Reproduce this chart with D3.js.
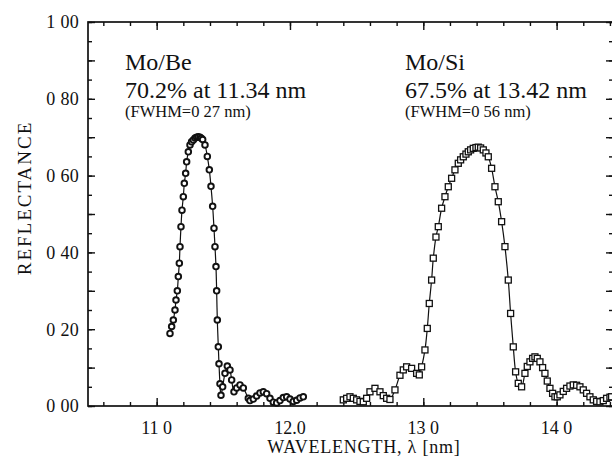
<!DOCTYPE html>
<html>
<head>
<meta charset="utf-8">
<script src="https://cdn.jsdelivr.net/npm/d3@7"></script>
<style>
  body { margin: 0; background: #fff; }
  svg { display: block; }
  text { font-family: "Liberation Serif", "Times New Roman", serif; fill: #111; }
</style>
</head>
<body>
<svg id="chart" width="612" height="461" font-family="Liberation Serif, serif"></svg>
<script>
// [wavelength nm, reflectance]
const moBePoints = [
  [11.100, 0.189], [11.1125, 0.207], [11.125, 0.224], [11.1375, 0.250], [11.145, 0.276],
  [11.155, 0.300], [11.1625, 0.337], [11.170, 0.372], [11.175, 0.415], [11.1825, 0.467],
  [11.190, 0.510], [11.200, 0.545], [11.2075, 0.580], [11.2175, 0.606], [11.225, 0.636],
  [11.2375, 0.662], [11.250, 0.680], [11.262, 0.688], [11.275, 0.693], [11.288, 0.698],
  [11.300, 0.700], [11.312, 0.701], [11.325, 0.700], [11.335, 0.697], [11.345, 0.694],
  [11.3625, 0.680], [11.380, 0.650], [11.395, 0.615], [11.4075, 0.572], [11.420, 0.520],
  [11.430, 0.463], [11.4375, 0.415], [11.445, 0.363], [11.450, 0.300], [11.455, 0.224],
  [11.4625, 0.154], [11.4675, 0.110], [11.475, 0.058], [11.4825, 0.028], [11.495, 0.050],
  [11.5125, 0.085], [11.530, 0.104], [11.550, 0.094], [11.5625, 0.068], [11.580, 0.037],
  [11.600, 0.047], [11.625, 0.055], [11.650, 0.047], [11.6875, 0.020], [11.700, 0.014],
  [11.725, 0.018], [11.750, 0.026], [11.775, 0.034], [11.800, 0.037], [11.825, 0.032],
  [11.850, 0.020], [11.875, 0.010], [11.900, 0.008], [11.925, 0.014], [11.950, 0.022],
  [11.975, 0.024], [12.000, 0.018], [12.025, 0.012], [12.050, 0.015], [12.075, 0.021],
  [12.100, 0.024]
];

const moSiPoints = [
  [12.400, 0.016], [12.425, 0.020], [12.450, 0.024], [12.475, 0.020], [12.500, 0.016],
  [12.525, 0.012], [12.550, 0.011], [12.575, 0.020], [12.600, 0.037], [12.6375, 0.046],
  [12.675, 0.037], [12.700, 0.027], [12.725, 0.020], [12.750, 0.017], [12.7875, 0.042],
  [12.825, 0.080], [12.850, 0.094], [12.875, 0.102], [12.9125, 0.098], [12.950, 0.085],
  [12.970, 0.081], [12.9875, 0.102], [13.0125, 0.146], [13.030, 0.202], [13.045, 0.267],
  [13.0625, 0.328], [13.075, 0.385], [13.095, 0.440], [13.1125, 0.467], [13.1375, 0.515],
  [13.1625, 0.545], [13.1875, 0.571], [13.2125, 0.593], [13.2375, 0.615], [13.2625, 0.632],
  [13.280, 0.641], [13.300, 0.649], [13.320, 0.656], [13.3375, 0.662], [13.355, 0.667],
  [13.375, 0.671], [13.395, 0.673], [13.4125, 0.674], [13.430, 0.672], [13.450, 0.667],
  [13.470, 0.659], [13.4875, 0.649], [13.5125, 0.619], [13.5375, 0.571], [13.5625, 0.532],
  [13.5875, 0.480], [13.6125, 0.415], [13.6375, 0.328], [13.655, 0.241], [13.675, 0.154],
  [13.6925, 0.089], [13.7125, 0.059], [13.7375, 0.050], [13.7625, 0.085], [13.780, 0.103],
  [13.800, 0.115], [13.820, 0.124], [13.8375, 0.128], [13.855, 0.124], [13.875, 0.115],
  [13.895, 0.100], [13.9125, 0.085], [13.930, 0.065], [13.950, 0.046], [13.970, 0.033],
  [13.9875, 0.024], [14.005, 0.024], [14.025, 0.029], [14.050, 0.038], [14.075, 0.046],
  [14.100, 0.052], [14.125, 0.055], [14.150, 0.054], [14.175, 0.050], [14.200, 0.042],
  [14.225, 0.033], [14.250, 0.024], [14.275, 0.016], [14.300, 0.012], [14.325, 0.011],
  [14.350, 0.014], [14.375, 0.020], [14.400, 0.023], [14.4125, 0.024]
];

const yTickValues = [0, 0.2, 0.4, 0.6, 0.8, 1.0];
const yTickLabels = ['0 00', '0 20', '0 40', '0 60', '0 80', '1 00'];
const xTickValues = [11, 12, 13, 14];
const xTickLabels = ['11 0', '12.0', '13 0', '14 0'];

const sampleNames = ['Mo/Be', 'Mo/Si'];
const peakLabels = ['70.2% at 11.34 nm', '67.5% at 13.42 nm'];
const fwhmLabels = ['(FWHM=0 27 nm)', '(FWHM=0 56 nm)'];

const svg = d3.select('#chart');

const plotLeft = 88, plotRight = 613, plotTop = 22, plotBottom = 406;

const x = d3.scaleLinear().domain([10.485, 14.423]).range([plotLeft, plotRight]);
const y = d3.scaleLinear().domain([0, 1]).range([plotBottom, plotTop]);

// small inward ticks
function tickAxis(axis, values, size, transform) {
  const g = svg.append('g')
    .attr('transform', transform)
    .call(axis.tickValues(values).tickSizeInner(-size).tickSizeOuter(0).tickFormat(''));
  g.select('.domain').remove();
  g.selectAll('.tick line').attr('stroke', '#111').attr('stroke-width', 1.4);
  return g;
}

tickAxis(d3.axisBottom(x), x.ticks(20), 4, `translate(0,${plotBottom})`);
tickAxis(d3.axisBottom(x), xTickValues, 8, `translate(0,${plotBottom})`);
tickAxis(d3.axisTop(x), x.ticks(20), 4, `translate(0,${plotTop})`);
tickAxis(d3.axisTop(x), xTickValues, 8, `translate(0,${plotTop})`);

tickAxis(d3.axisLeft(y), y.ticks(20), 4, `translate(${plotLeft},0)`);
tickAxis(d3.axisLeft(y), y.ticks(10), 7, `translate(${plotLeft},0)`);
tickAxis(d3.axisRight(y), y.ticks(20), 4, `translate(${plotRight},0)`);
tickAxis(d3.axisRight(y), y.ticks(10), 7, `translate(${plotRight},0)`);

// tick labels
svg.append('g')
  .selectAll('text')
  .data(yTickValues)
  .join('text')
  .attr('x', plotLeft - 9)
  .attr('y', d => y(d))
  .attr('dy', '0.35em')
  .attr('text-anchor', 'end')
  .attr('font-size', 18)
  .attr('letter-spacing', 0.3)
  .text((d, i) => yTickLabels[i]);

svg.append('g')
  .selectAll('text')
  .data(xTickValues)
  .join('text')
  .attr('x', d => x(d))
  .attr('y', plotBottom + 28)
  .attr('text-anchor', 'middle')
  .attr('font-size', 18)
  .text((d, i) => xTickLabels[i]);

// frame
svg.append('rect')
  .attr('x', plotLeft)
  .attr('y', plotTop)
  .attr('width', plotRight - plotLeft)
  .attr('height', plotBottom - plotTop)
  .attr('fill', 'none')
  .attr('stroke', '#111')
  .attr('stroke-width', 1.7);

// axis titles
svg.append('text')
  .attr('transform', 'translate(31,198) rotate(-90)')
  .attr('text-anchor', 'middle')
  .attr('font-size', 19)
  .attr('letter-spacing', 2)
  .text('REFLECTANCE');

svg.append('text')
  .attr('x', 364)
  .attr('y', 453)
  .attr('text-anchor', 'middle')
  .attr('font-size', 18)
  .attr('letter-spacing', 0.8)
  .text('WAVELENGTH, λ [nm]');

// annotations
const annX = [125, 405];
sampleNames.forEach((name, i) => {
  svg.append('text').attr('x', annX[i]).attr('y', 70).attr('font-size', 24).text(name);
  svg.append('text').attr('x', annX[i]).attr('y', 98).attr('font-size', 24).text(peakLabels[i]);
  svg.append('text').attr('x', annX[i]).attr('y', 117).attr('font-size', 16.5).text(fwhmLabels[i]);
});

// curves
const line = d3.line()
  .x(d => x(d[0]))
  .y(d => y(d[1]))
  .curve(d3.curveCatmullRom);

[moBePoints, moSiPoints].forEach(pts => {
  svg.append('path')
    .datum(pts)
    .attr('d', line)
    .attr('fill', 'none')
    .attr('stroke', '#111')
    .attr('stroke-width', 1.2);
});

svg.append('g')
  .selectAll('circle')
  .data(moBePoints)
  .join('circle')
  .attr('cx', d => x(d[0]))
  .attr('cy', d => y(d[1]))
  .attr('r', 2.8)
  .attr('fill', '#fff')
  .attr('stroke', '#111')
  .attr('stroke-width', 1.9);

svg.append('g')
  .selectAll('rect')
  .data(moSiPoints)
  .join('rect')
  .attr('x', d => x(d[0]) - 3)
  .attr('y', d => y(d[1]) - 3)
  .attr('width', 6)
  .attr('height', 6)
  .attr('fill', '#fff')
  .attr('stroke', '#111')
  .attr('stroke-width', 1.3);
</script>
</body>
</html>
